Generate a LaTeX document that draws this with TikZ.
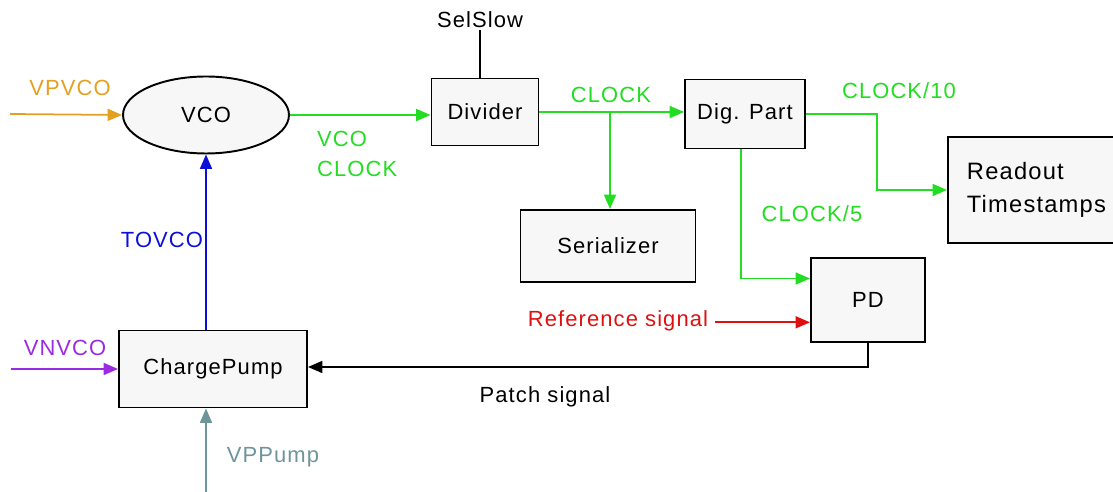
\documentclass[tikz,border=0pt]{standalone}
\usepackage{fontspec}
\setmainfont{Liberation Sans}[LetterSpace=5]
\usepackage{tikz}
\usetikzlibrary{arrows.meta, positioning, calc, shapes.geometric}
\usepackage{xcolor}

\definecolor{clkgreen}{HTML}{22DD22}
\definecolor{vpcol}{HTML}{E5A020}
\definecolor{vncol}{HTML}{9A2BE2}
\definecolor{pumpcol}{HTML}{6E959C}
\definecolor{tocol}{HTML}{0A10D8}
\definecolor{refcol}{HTML}{E01010}

\begin{document}
\begin{tikzpicture}[
        x=0.02cm, y=-0.02cm,
        >={Triangle[length=2.9mm, width=2.4mm]},
        font=\fontsize{12.5}{17.5}\selectfont,
        block/.style={rectangle, draw=black, fill=black!3, line width=1.1pt, align=center},
        oval/.style={ellipse, draw=black, fill=black!3, line width=1.1pt, minimum width=3.32cm, minimum height=1.54cm},
        line/.style={draw, ->, line width=1pt},
        lbl/.style={inner sep=1pt}
    ]
        \useasboundingbox (0,0) rectangle (1113,492);
        \clip (0,0) rectangle (1113,492);

        % ================= BLOCKS =================
        \node[oval] (vco) at (206,115) {VCO};
        \node[block, minimum width=2.14cm, minimum height=1.34cm] (div) at (485,112) {Divider};
        \node[block, minimum width=2.4cm, minimum height=1.38cm] (dig) at (745,114) {Dig. Part};
        \node[block, minimum width=3.5cm, minimum height=1.44cm] (ser) at (608,246) {Serializer};
        \node[block, anchor=west, align=left, text width=3.2cm, inner xsep=0.38cm,
              minimum height=2.12cm, font=\fontsize{13.5}{18.5}\selectfont] (ro) at (947,190) {Readout\\Timestamps};
        \node[block, minimum width=2.28cm, minimum height=1.68cm] (pd) at (868,300) {PD};
        \node[block, minimum width=3.76cm, minimum height=1.54cm] (cp) at (213,369) {ChargePump};

        % ================= INPUTS =================
        \coordinate (vpin) at (10,114);
        \coordinate (vnin) at (11,369);
        \coordinate (pumpin) at (206,492);
        \node[lbl] (selslow) at (480,20) {SelSlow};
        \node[lbl, text=refcol] (refsig) at (618,321) {Reference signal};
        \coordinate (clkin) at ($(pd.north west)!0.25!(pd.south west)$);
        \coordinate (refin) at ($(pd.north west)!0.76!(pd.south west)$);

        % ================= CONNECTIONS =================
        \path[line, vpcol] (vpin) -- (vco.west);
        \path[line, clkgreen] (vco.east) -- (vco.east -| div.west);
        \draw[line width=1pt] (selslow.south) -- (selslow.south |- div.north);
        \path[line, clkgreen] (div.east) -- (div.east -| dig.west);
        \coordinate (split) at (610,113);
        \path[line, clkgreen] (split) -- (split |- ser.north);
        \path[line, clkgreen] (dig.east) -- ++(71,0) |- (ro.west);
        \path[line, clkgreen] ([xshift=-0.08cm]dig.south) |- (clkin);
        \path[line, refcol] ([xshift=0.1cm]refin -| refsig.east) -- (refin);
        \path[line, black] (pd.south) |- ([yshift=0.04cm]cp.east);
        \path[line, tocol] (cp.north -| vco.south) -- (vco.south);
        \path[line, vncol] (vnin) -- (cp.west);
        \path[line, pumpcol] (pumpin) -- (cp.south -| pumpin);

        % ================= LABELS =================
        \node[lbl, text=vpcol] (vpvcolbl) at (70,88) {VPVCO};
        \node[lbl, text=clkgreen, anchor=west, align=left] (vcoclk) at (315,154) {VCO\\CLOCK};
        \node[lbl, text=clkgreen] (clklbl) at (611,95) {CLOCK};
        \node[lbl, text=clkgreen] (clk10) at (899,91) {CLOCK/10};
        \node[lbl, text=clkgreen] (clk5) at (812,214) {CLOCK/5};
        \node[lbl, text=tocol] (tovco) at (162,240) {TOVCO};
        \node[lbl, text=vncol] (vnvcolbl) at (65,348) {VNVCO};
        \node[lbl, text=pumpcol] (pumplbl) at (273,457) {VPPump};
        \node[lbl] (patch) at (545,397) {Patch signal};

\end{tikzpicture}
\end{document}
